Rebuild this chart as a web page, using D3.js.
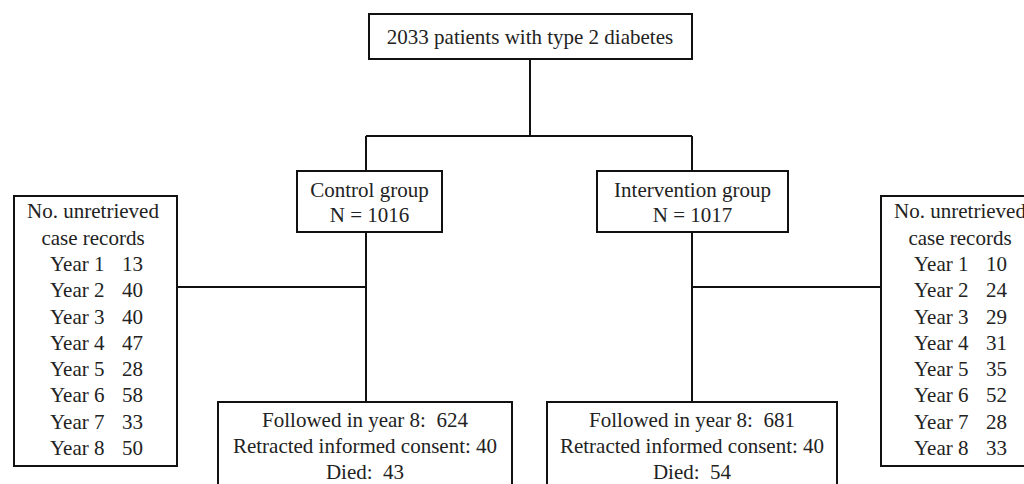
<!DOCTYPE html>
<html>
<head>
<meta charset="utf-8">
<script src="https://cdn.jsdelivr.net/npm/d3@7"></script>
<style>
  body { margin: 0; background: #fff; }
  svg text { font-family: "Liberation Serif", "Times New Roman", serif; fill: #222; white-space: pre; }
</style>
</head>
<body>
<div id="chart"></div>
<script>
var totalLabel = "2033 patients with type 2 diabetes";
var groupNames = ["Control group", "Intervention group"];
var groupN = [1016, 1017];
var yearLabels = ["Year 1", "Year 2", "Year 3", "Year 4", "Year 5", "Year 6", "Year 7", "Year 8"];
var controlUnretrieved = [13, 40, 40, 47, 28, 58, 33, 50];
var interventionUnretrieved = [10, 24, 29, 31, 35, 52, 28, 33];
var followedYear8 = [624, 681];
var retractedConsent = [40, 40];
var died = [43, 54];

var svgWidth = 1024;
var svgHeight = 484;
var fontSize = 21;
var lineColor = "#111";

var svg = d3.select("#chart")
  .append("svg")
  .attr("width", svgWidth)
  .attr("height", svgHeight);

// helper: draw a box
function box(x, y, w, h) {
  svg.append("rect")
    .attr("x", x).attr("y", y)
    .attr("width", w).attr("height", h)
    .attr("fill", "#fff")
    .attr("stroke", lineColor)
    .attr("stroke-width", 2);
}

function line(pts) {
  svg.append("path")
    .attr("d", d3.line()(pts))
    .attr("fill", "none")
    .attr("stroke", lineColor)
    .attr("stroke-width", 2);
}

function label(x, y, txt, anchor) {
  svg.append("text")
    .attr("x", x).attr("y", y)
    .attr("text-anchor", anchor || "middle")
    .attr("xml:space", "preserve")
    .style("font-size", fontSize + "px")
    .text(txt);
}

// centre positions of the two arms
var armX = [366, 692];

// connectors
line([[530, 59], [530, 136]]);
line([[armX[0], 136], [armX[1], 136]]);
line([[armX[0], 136], [armX[0], 171]]);
line([[armX[1], 136], [armX[1], 171]]);
line([[armX[0], 232], [armX[0], 402]]);
line([[armX[1], 232], [armX[1], 402]]);
line([[177, 287], [armX[0], 287]]);
line([[armX[1], 287], [881, 287]]);

// top box
box(369, 14, 323, 45);
label(530, 44, totalLabel);

// group boxes
var groupBoxes = [{x: 297, w: 145}, {x: 597, w: 191}];
groupBoxes.forEach(function(b, i) {
  box(b.x, 171, b.w, 61);
  label(b.x + b.w / 2, 197, groupNames[i]);
  label(b.x + b.w / 2, 222, "N = " + groupN[i]);
});

// side boxes with the unretrieved records per year
var rowScale = d3.scalePoint()
  .domain(yearLabels)
  .range([271, 455]);

var sideBoxes = [
  {x: 14, values: controlUnretrieved, yearX: 50, numX: 122},
  {x: 881, values: interventionUnretrieved, yearX: 914, numX: 986}
];
sideBoxes.forEach(function(b) {
  box(b.x, 196, 163, 270);
  label(b.x + 79, 218, "No. unretrieved");
  label(b.x + 79, 245, "case records");
  yearLabels.forEach(function(yr, j) {
    label(b.yearX, rowScale(yr), yr, "start");
    label(b.numX, rowScale(yr), b.values[j], "start");
  });
});

// bottom boxes
var bottomBoxes = [{x: 218, w: 294}, {x: 547, w: 290}];
bottomBoxes.forEach(function(b, i) {
  box(b.x, 402, b.w, 100);
  var cx = b.x + b.w / 2;
  label(cx, 427, "Followed in year 8:  " + followedYear8[i]);
  label(cx, 453, "Retracted informed consent: " + retractedConsent[i]);
  label(cx, 479, "Died:  " + died[i]);
});
</script>
</body>
</html>
